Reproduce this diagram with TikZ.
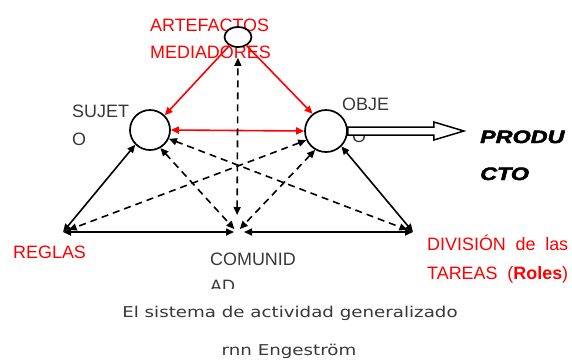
\documentclass[tikz,border=0pt]{standalone}
\usepackage{fontspec}
\setmainfont{Liberation Sans}
\newfontfamily\piefont{DejaVu Sans}
\newfontfamily\gruesafont[FakeBold=2.5]{Liberation Sans}
\usetikzlibrary{arrows.meta,shapes.geometric,calc}
\definecolor{gristxt}{HTML}{383838}
\tikzset{
  flecha/.style={{Triangle[length=8bp,width=7bp]}-{Triangle[length=8bp,width=7bp]},line width=1.6bp},
  flechauna/.style={-{Triangle[length=8bp,width=7bp]},line width=1.6bp},
  rayas/.style={dash pattern=on 7bp off 5bp},
  circulo/.style={draw,circle,line width=1.7bp,fill=white,minimum size=#1,inner sep=0pt},
  etiq/.style={anchor=base west,inner sep=0pt,font=\fontsize{18}{20}\selectfont,text=gristxt},
  pie/.style={anchor=base,inner sep=0pt,font=\piefont\fontsize{15}{17}\selectfont,text=gristxt}
}

\begin{document}
\begin{tikzpicture}[x=1bp,y=-1bp]
\useasboundingbox (0,0) rectangle (572,361);
% textos rojos
\node[etiq,text=red] (T1) at (150,31) {ARTEFACTOS};
\node[etiq,text=red] (T2) at (150,58) {MEDIADORES};
\node[etiq,text=red] (T3) at (13,258) {REGLAS};
\node[etiq,text=red] (T4) at (427,250) {\makebox[141bp][s]{DIVISI\'ON de las}};
\node[etiq,text=red] (T5) at (427,279) {\makebox[141bp][s]{TAREAS (\textbf{Roles})}};
% textos negros
\node[etiq] (T6) at (72,117) {SUJET};
\node[etiq] (T7) at (72,145) {O};
\node[etiq] (T8) at (342,110) {OBJE};
\node[etiq] (T9) at (352,142) {O};
\node[etiq] (T10) at (210,265) {COMUNID};
\begin{scope}
\clip (200,270) rectangle (300,288);
\node[etiq] (T11) at (210,292) {AD};
\end{scope}
\node[etiq,text=black] (T12) at (480,143) {\scalebox{1.3}[1]{\gruesafont\bfseries\itshape PRODU}};
\node[etiq,text=black] (T13) at (480,180) {\scalebox{1.3}[1]{\gruesafont\bfseries\itshape CTO}};
% pie
\node[pie] (P1) at (290,317) {\scalebox{1.22}[1]{El sistema de actividad generalizado}};
\node[pie] (P2) at (289,355) {\scalebox{1.22}[1]{rnn Engestr\"om}};

% puntos
\node[draw,ellipse,line width=1.7bp,fill=white,minimum width=27bp,minimum height=20bp,inner sep=0pt] (A) at (238,37) {};
\node[circulo=40bp] (S) at (150,130) {};
\node[circulo=42bp] (O) at (326,131) {};
\coordinate (R) at (63,232);
\coordinate (C) at (237,232);
\coordinate (D) at (413,232);

% flechas rojas
\draw[flechauna,red] (A.225) -- (S.45);
\draw[flechauna,red] (A.-45) -- (O.128);
\draw[flecha,red] (S.east) -- (O.west);
% lineas llenas
\draw[flecha] (S.225) -- (R);
\draw[flecha] (O.-45) -- (D);
\draw[flecha,shorten >=3bp] (R) -- (C);
\draw[flecha,shorten <=7bp] (C) -- (D);
% lineas discontinuas
\draw[flecha,rayas,shorten <=17bp,shorten >=10bp] (C) -- (A.south);
\draw[flecha,rayas,shorten >=4bp] (S.-60) -- (C);
\draw[flecha,rayas,shorten >=4bp] (O.-120) -- (C);
\draw[flecha,rayas,shorten >=6bp] (S.-25) -- (D);
\draw[flecha,rayas,shorten >=6bp] (O.-155) -- (R);
% producto
\draw[line width=1.5bp,fill=white] ($(O.east)+(0,-4)$) -- ++(86,0) -- ++(0,-5) -- ++(30,9) -- ++(-30,9) -- ++(0,-5) -- ++(-86,0) -- cycle;
\end{tikzpicture}
\end{document}
